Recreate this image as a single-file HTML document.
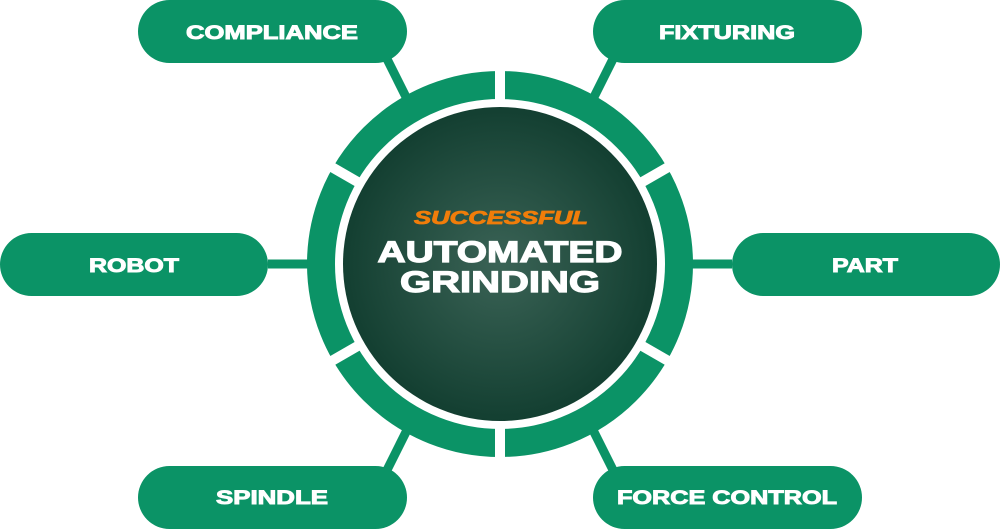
<!DOCTYPE html>
<html><head><style>html,body{margin:0;padding:0;background:#fff}svg{display:block}</style></head>
<body>
<svg width="1000" height="529" viewBox="0 0 1000 529" xmlns="http://www.w3.org/2000/svg">
<defs>
<radialGradient id="g" cx="50%" cy="50%" r="50%">
<stop offset="0" stop-color="#3b6356"/>
<stop offset="1" stop-color="#133f31"/>
</radialGradient>
</defs>
<g stroke="#0b9366" stroke-width="9">
<line x1="268" y1="264" x2="320" y2="264"/>
<line x1="732" y1="264" x2="680" y2="264"/>
<line x1="385" y1="55" x2="410" y2="105"/>
<line x1="615" y1="55" x2="590" y2="105"/>
<line x1="385" y1="474" x2="410" y2="424"/>
<line x1="615" y1="474" x2="590" y2="424"/>
</g>
<circle cx="500" cy="264" r="179" fill="none" stroke="#0b9366" stroke-width="28"/>
<g stroke="#fff" stroke-width="10">
<line x1="500" y1="60" x2="500" y2="468"/>
<line x1="323" y1="162" x2="677" y2="366"/>
<line x1="323" y1="366" x2="677" y2="162"/>
</g>
<circle cx="500" cy="264" r="157" fill="url(#g)"/>
<g fill="#0b9366">
<rect x="138" y="0" width="269" height="63" rx="31.5"/>
<rect x="593" y="0" width="269" height="63" rx="31.5"/>
<rect x="0" y="233" width="268" height="63" rx="31.5"/>
<rect x="732" y="233" width="268" height="63" rx="31.5"/>
<rect x="138" y="466" width="269" height="63" rx="31.5"/>
<rect x="593" y="466" width="269" height="63" rx="31.5"/>
</g>
<g font-family="Liberation Sans, sans-serif" font-weight="bold" fill="#fff" stroke="#fff" stroke-width="0.9" font-size="19" text-anchor="middle">
<text x="272" y="39" textLength="172" lengthAdjust="spacingAndGlyphs">COMPLIANCE</text>
<text x="727" y="39" textLength="136" lengthAdjust="spacingAndGlyphs">FIXTURING</text>
<text x="134" y="272" textLength="90" lengthAdjust="spacingAndGlyphs">ROBOT</text>
<text x="865" y="272" textLength="66" lengthAdjust="spacingAndGlyphs">PART</text>
<text x="272" y="504" textLength="112" lengthAdjust="spacingAndGlyphs">SPINDLE</text>
<text x="727" y="504" textLength="220" lengthAdjust="spacingAndGlyphs">FORCE CONTROL</text>
</g>
<g font-family="Liberation Sans, sans-serif" font-weight="bold" text-anchor="middle">
<text x="501" y="224" font-size="18" font-style="italic" fill="#f07d0a" stroke="#f07d0a" stroke-width="0.8" textLength="174" lengthAdjust="spacingAndGlyphs">SUCCESSFUL</text>
<text x="500" y="262" font-size="30" fill="#fff" stroke="#fff" stroke-width="1.2" textLength="245" lengthAdjust="spacingAndGlyphs">AUTOMATED</text>
<text x="500" y="292" font-size="30" fill="#fff" stroke="#fff" stroke-width="1.2" textLength="200" lengthAdjust="spacingAndGlyphs">GRINDING</text>
</g>
</svg>
</body></html>
